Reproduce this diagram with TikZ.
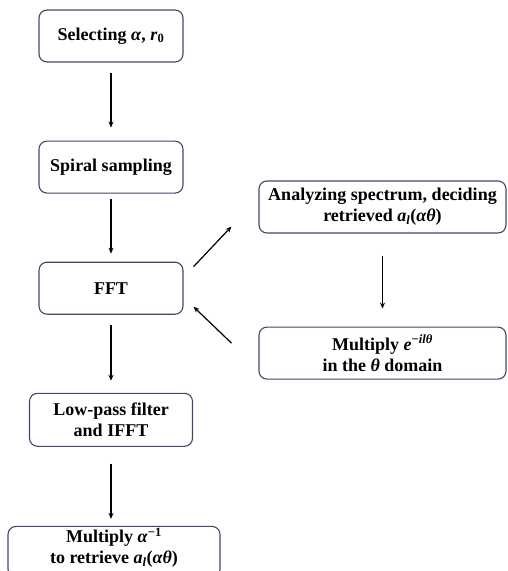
\documentclass[tikz,border=0pt]{standalone}
\usepackage{fontspec}
\setmainfont{Liberation Serif}
\usetikzlibrary{positioning}
\usetikzlibrary{arrows.meta}
\definecolor{boxline}{RGB}{60,74,105}
\newcommand{\mv}[1]{\textbf{\textit{#1}}}
\tikzstyle{stepbox} = [rectangle, rounded corners=8pt, draw=boxline, line width=1.1pt,
fill=white, align=center, inner sep=2pt, minimum height=52pt,
font=\fontsize{18}{21}\selectfont\bfseries]
\tikzstyle{flow} = [-{Stealth[length=6pt,width=5pt]}, line width=1.2pt, black]

\begin{document}
\begin{tikzpicture}
  [
    x=1pt, y=-1pt,
    node distance=78pt
    ]

\useasboundingbox (0,0) rectangle (507,571);

\node[stepbox, minimum width=144pt] (sel) at (111,36) {Selecting \mv{α}, \mv{r}\textsubscript{0}};
        \node[stepbox, minimum width=144pt, below=of sel] (spi) {Spiral sampling};
        \node[stepbox, minimum width=144pt, below=68pt of spi] (fft) {FFT};
        \node[stepbox, minimum width=163pt, minimum height=53pt, below=of fft] (low) {Low-pass filter\\and IFFT};
        \node[stepbox, minimum width=212pt, minimum height=50pt, text depth=11pt, below=79pt of low, xshift=3pt] (inv) {Multiply \mv{α}\textsuperscript{−1}\\to retrieve \mv{a}\textsubscript{\mv{l}}(\mv{αθ})};

        \node[stepbox, minimum width=247pt] (spec) at (382.5,207) {Analyzing spectrum, deciding\\retrieved \mv{a}\textsubscript{\mv{l}}(\mv{αθ})};
        \node[stepbox, minimum width=247pt, below=93pt of spec] (mul) {Multiply \mv{e}\textsuperscript{−\mv{ilθ}}\\in the \mv{θ} domain};

        \draw[flow, shorten <=10pt, shorten >=13pt] (sel) -- (spi);
        \draw[flow, shorten <=5pt, shorten >=8pt] (spi) -- (fft);
        \draw[flow, shorten <=10pt, shorten >=12pt] (fft) -- (low);
        \draw[flow, shorten <=17pt, shorten >=7pt] (low) -- (low |- inv.north);
        \draw[flow, shorten <=22pt, shorten >=18pt] (spec) -- (mul);

        \draw[flow] ([xshift=10pt,yshift=-5pt]fft.north east) -- ([xshift=-27pt,yshift=7pt]spec.south west);
        \draw[flow] ([xshift=-27pt,yshift=10pt]mul.west) -- ([xshift=10pt,yshift=8pt]fft.south east);
\end{tikzpicture}
\end{document}
